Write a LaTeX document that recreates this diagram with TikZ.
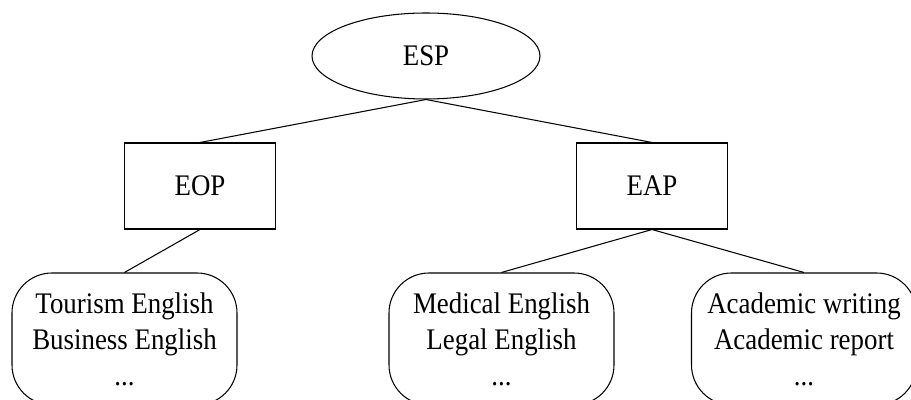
\documentclass[tikz,border=0pt]{standalone}
\usepackage{fontspec}
\setmainfont{Liberation Serif}[FakeStretch=0.9]
\usepackage{tikz}
\usetikzlibrary{shapes.geometric}

\begin{document}
\begin{tikzpicture}[
    every node/.style={font=\fontsize{17}{20.5}\selectfont},
    ovalnode/.style={ellipse, draw, line width=0.6pt, inner sep=0pt, minimum width=4.56cm, minimum height=1.72cm},
    boxnode/.style={rectangle, draw, line width=0.6pt, inner sep=0pt, minimum width=3.02cm, minimum height=1.72cm},
    groupnode/.style={rectangle, draw, line width=0.6pt, rounded corners=0.8cm, align=center, inner sep=0pt, minimum width=4.5cm, minimum height=2.64cm}]
          \clip (0,0) rectangle (18.22,8);

          \node[ovalnode] (esp) at (8.52,6.88) {ESP};
          \node[boxnode] (eop) at (4.0,4.28) {EOP};
          \node[boxnode] (eap) at (13.04,4.28) {EAP};

          \node[groupnode] (tourism) at (2.49,1.22) {Tourism English\\Business English\\...};
          \node[groupnode] (medical) at (10.03,1.22) {Medical English\\Legal English\\...};
          \node[groupnode] (academic) at (16.08,1.22) {Academic writing\\Academic report\\...};

          \draw[line width=0.6pt] (esp.south) -- (eop.north);
          \draw[line width=0.6pt] (esp.south) -- (eap.north);
          \draw[line width=0.6pt] (eop.south) -- (tourism.north);
          \draw[line width=0.6pt] (eap.south) -- (medical.north);
          \draw[line width=0.6pt] (eap.south) -- (academic.north);
        \end{tikzpicture}
\end{document}
